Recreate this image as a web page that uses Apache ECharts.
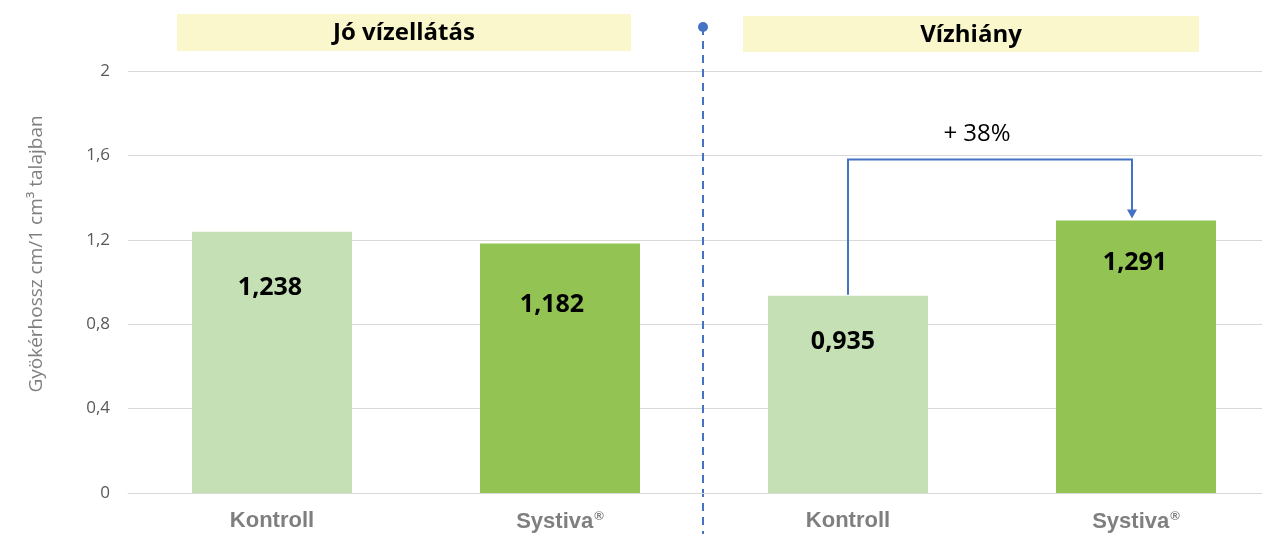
<!DOCTYPE html>
<html>
<head>
<meta charset="utf-8">
<script src="https://cdn.jsdelivr.net/npm/echarts@6/dist/echarts.min.js"></script>
<style>
  html, body { margin:0; padding:0; background:#fff; }
  #chart { width:1262px; height:534px; }
</style>
</head>
<body>
<div id="chart"></div>
<script>
// data
const categories = ['Kontroll', 'Systiva®', 'Kontroll', 'Systiva®']
const values = [1.238, 1.182, 0.935, 1.291]
const valueLabels = ['1,238', '1,182', '0,935', '1,291']
const yTicks = ['0', '0,4', '0,8', '1,2', '1,6', '2']
const groups = ['Jó vízellátás', 'Vízhiány']
const increase = '+ 38%'

const lightGreen = '#C5E0B4'
const darkGreen = '#92C353'
const blue = '#4472C4'
const labelDist = [44, 49, 34, 30]
const labelShiftX = [-2, -8, -5, -1]

const chart = echarts.init(document.getElementById('chart'))

const option = {
    animation: false,
    grid: { left: 128, top: 71, width: 1152, height: 422, outerBoundsMode: 'none', containLabel: false },
    xAxis: {
        type: 'category',
        data: categories,
        axisTick: { show: false },
        axisLine: { lineStyle: { color: '#D9D9D9' } },
        axisLabel: {
            margin: 17,
            formatter: v => v.endsWith('®') ? '{b|' + v.slice(0, -1) + '}{s|®}' : '{b|' + v + '}',
            rich: {
                b: { fontFamily: 'Liberation Sans', fontWeight: 'bold', fontSize: 22, color: '#7F7F7F' },
                s: { fontFamily: 'Liberation Sans', fontWeight: 'bold', fontSize: 13, color: '#7F7F7F', padding: [0, 0, 11, 1] }
            }
        }
    },
    yAxis: {
        type: 'value',
        min: 0, max: 2, interval: 0.4,
        axisLine: { show: false },
        axisTick: { show: false },
        splitLine: { lineStyle: { color: '#D9D9D9', width: 1 } },
        axisLabel: {
            margin: 18,
            color: '#595959',
            fontSize: 17,
            fontFamily: 'Open Sans',
            formatter: (v) => yTicks[Math.round(v / 0.4)]
        }
    },
    series: [{
        type: 'bar',
        barWidth: 160,
        data: values.map((v, i) => ({
            value: v,
            itemStyle: { color: i % 2 === 0 ? lightGreen : darkGreen },
            label: {
                show: true,
                position: 'insideTop',
                distance: labelDist[i],
                offset: [labelShiftX[i], 0],
                formatter: valueLabels[i],
                color: '#000',
                fontWeight: 'bold',
                fontSize: 25,
                fontFamily: 'Open Sans'
            }
        }))
    }]
}
chart.setOption(option)

// annotations from the chart's own scale
const p3 = chart.convertToPixel({ seriesIndex: 0 }, [2, values[2]])
const p4 = chart.convertToPixel({ seriesIndex: 0 }, [3, values[3]])
const topY = chart.convertToPixel({ yAxisIndex: 0 }, 1.58)
const divX = (chart.convertToPixel({ xAxisIndex: 0 }, 1) + p3[0]) / 2
const ax = p4[0] - 4

chart.setOption({
    graphic: [
        { type: 'rect', shape: { x: 177, y: 14, width: 454, height: 37 }, style: { fill: '#FAF7CD' } },
        { type: 'text', x: 404, y: 33, style: { text: groups[0], fontSize: 24, fontWeight: 'bold', fontFamily: 'Open Sans', fill: '#000', align: 'center', verticalAlign: 'middle' } },
        { type: 'rect', shape: { x: 743, y: 16, width: 456, height: 36 }, style: { fill: '#FAF7CD' } },
        { type: 'text', x: 971, y: 35, style: { text: groups[1], fontSize: 24, fontWeight: 'bold', fontFamily: 'Open Sans', fill: '#000', align: 'center', verticalAlign: 'middle' } },
        { type: 'line', shape: { x1: divX - 1, y1: 27, x2: divX - 1, y2: 534 }, style: { stroke: blue, lineWidth: 2, lineDash: [8, 6] } },
        { type: 'circle', shape: { cx: divX - 1, cy: 27, r: 5 }, style: { fill: blue } },
        { type: 'polyline', shape: { points: [[p3[0], p3[1] - 1], [p3[0], topY], [ax, topY], [ax, p4[1] - 10]] }, style: { stroke: blue, lineWidth: 2, fill: null } },
        { type: 'polygon', shape: { points: [[ax - 5, p4[1] - 11], [ax + 5, p4[1] - 11], [ax, p4[1] - 2]] }, style: { fill: blue } },
        { type: 'text', x: (p3[0] + ax) / 2 - 13, y: topY - 25, style: { text: increase, fontSize: 24, fontFamily: 'Open Sans', fill: '#000', align: 'center', verticalAlign: 'middle' } },
        { type: 'text', x: 37, y: 254, rotation: Math.PI / 2, style: { text: 'Gyökérhossz cm/1 cm³ talajban', fontSize: 19, fontFamily: 'Open Sans', fill: '#7F7F7F', align: 'center', verticalAlign: 'middle' } }
    ]
})
</script>
</body>
</html>
